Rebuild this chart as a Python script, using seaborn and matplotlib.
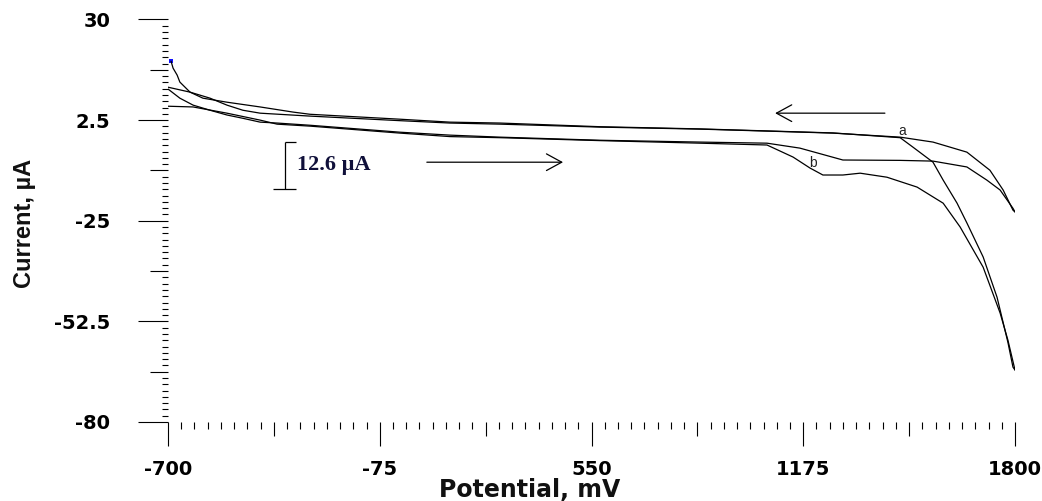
import matplotlib
matplotlib.use("Agg")
import matplotlib.pyplot as plt
import numpy as np
import pandas as pd
import seaborn as sns

# Cyclic voltammograms: potential (mV) vs current (uA), two cycles, forward and reverse sweeps
fwd_a_mv = [-700, -665, -626, -576, -526, -479, -428, -378, -281, -15, 132, 280, 575, 870,
            1068, 1165, 1292, 1461, 1558, 1658, 1717, 1756, 1794, 1800]
fwd_a_ua = [11.0, 8.5, 6.6, 5.2, 3.9, 3.0, 1.95, 1.7, 1.1, -0.8, -1.6, -2.15, -3.0, -3.5,
            -3.8, -5.15, -8.4, -8.5, -8.7, -10.3, -13.9, -16.6, -21.6, -22.6]

rev_a_mv = [1800, 1794, 1765, 1726, 1658, 1558, 1461, 1263, 1068, 870, 575, 280, 132, -15,
            -281, -428, -479, -526, -576, -635, -700]
rev_a_ua = [-22.6, -22.1, -16.6, -11.2, -6.25, -3.5, -2.15, -1.05, -0.5, 0.04, 0.59, 1.4, 1.7, 2.35,
            3.6, 4.4, 5.2, 6.6, 8.5, 10.15, 11.5]

fwd_b_mv = [-700, -626, -526, -428, -378, -281, -15, 132, 280, 575, 870, 1068, 1145, 1195,
            1233, 1292, 1343, 1422, 1511, 1588, 1638, 1706, 1756, 1779, 1800]
fwd_b_ua = [6.3, 6.1, 4.4, 2.5, 1.4, 0.86, -1.05, -2.0, -2.3, -3.1, -3.8, -4.3, -7.6, -10.6,
            -12.5, -12.5, -12.0, -13.1, -15.8, -20.2, -26.7, -37.7, -50.2, -57.6, -65.8]

rev_b_mv = [1800, 1794, 1779, 1747, 1706, 1658, 1629, 1588, 1558, 1499, 1461, 1263, 1068, 870,
            575, 280, 132, -15, -281, -331, -428, -526, -597, -635, -665, -673, -685, -691]
rev_b_ua = [-65.8, -65.0, -58.2, -45.9, -34.9, -25.6, -20.2, -13.9, -9.0, -4.9, -2.3, -1.0, -0.45, 0.1,
            0.7, 1.7, 1.95, 2.75, 4.1, 4.7, 6.1, 7.4, 8.5, 10.15, 12.9, 14.8, 16.7, 18.6]

x_ticks = [-700, -75, 550, 1175, 1800]
x_tick_labels = ["-700", "-75", "550", "1175", "1800"]
y_ticks = [30, 2.5, -25, -52.5, -80]
y_tick_labels = ["30", "2.5", "-25", "-52.5", "-80"]

scale_bar_ua = 12.6
scale_bar_label = "12.6 \u00b5A"

scans = [("a-fwd", fwd_a_mv, fwd_a_ua), ("a-rev", rev_a_mv, rev_a_ua),
         ("b-fwd", fwd_b_mv, fwd_b_ua), ("b-rev", rev_b_mv, rev_b_ua)]
df = pd.concat([pd.DataFrame({"potential": mv, "current": ua, "scan": name})
                for name, mv, ua in scans], ignore_index=True)

sns.set_style("white")
plt.rcParams["font.family"] = ["DejaVu Sans"]

W, H = 1042, 501
fig = plt.figure(figsize=(W / 100, H / 100), dpi=100)
fig.patch.set_facecolor("white")
ax = fig.add_axes([168 / W, 1 - 422 / H, (1015 - 168) / W, (422 - 19.5) / H])

sns.lineplot(data=df, x="potential", y="current", units="scan", estimator=None,
             sort=False, color="black", linewidth=0.9, ax=ax, legend=False)
# end point of the last sweep
sns.scatterplot(x=[rev_b_mv[-1]], y=[rev_b_ua[-1]], color="#1010ff", marker="s",
                s=6, linewidth=0, ax=ax, legend=False)

ax.set_xlim(-700, 1800)
ax.set_ylim(-80, 30)
ax.set_xlabel("")
ax.set_ylabel("")
for s in ax.spines.values():
    s.set_visible(False)

# three tick levels: labelled, mid-way, and fine subdivisions
x_mid = [(a + b) / 2 for a, b in zip(x_ticks[:-1], x_ticks[1:])]
y_mid = [(a + b) / 2 for a, b in zip(y_ticks[:-1], y_ticks[1:])]
x_major_all = x_ticks + x_mid
y_major_all = y_ticks + y_mid
ax.set_xticks(x_major_all)
ax.set_xticklabels(x_tick_labels + [""] * len(x_mid), fontweight="bold", fontsize=14)
ax.set_yticks(y_major_all)
ax.set_yticklabels(y_tick_labels + [""] * len(y_mid), fontweight="bold", fontsize=14)
ax.set_xticks(np.arange(-700, 1800.1, 2500 / 64), minor=True)
ax.set_yticks(np.arange(-80, 30.01, 110 / 64), minor=True)

ax.tick_params(axis="x", which="both", bottom=True, top=False)
ax.tick_params(axis="y", which="both", left=True, right=False)
ax.tick_params(axis="x", which="major", direction="out", length=17.5, width=0.8, pad=10, colors="black")
ax.tick_params(axis="x", which="minor", direction="out", length=5.2, width=0.8, colors="black")
ax.tick_params(axis="y", which="major", direction="out", length=21.6, width=0.8, pad=20, colors="black")
ax.tick_params(axis="y", which="minor", direction="out", length=4.4, width=0.8, colors="black")

for t in ax.xaxis.get_major_ticks():
    if t.get_loc() in x_mid:
        t.tick1line.set_markersize(10.0)
for t in ax.yaxis.get_major_ticks():
    if t.get_loc() in y_mid:
        t.tick1line.set_markersize(13.0)

# sweep direction arrows
arrow_style = dict(arrowstyle="->,head_length=0.55,head_width=0.3", lw=0.9,
                   color="black", mutation_scale=20, shrinkA=0, shrinkB=0)
ax.annotate("", xy=(1092, 4.4), xytext=(1416, 4.4), arrowprops=arrow_style)
ax.annotate("", xy=(466, -9.0), xytext=(64, -9.0), arrowprops=arrow_style)

# curve labels
ax.text(1466, -0.6, "a", fontsize=10, family="Liberation Sans", color="#222222",
        ha="center", va="center")
ax.text(1204, -9.25, "b", fontsize=10, family="Liberation Sans", color="#222222",
        ha="center", va="center")

# current scale bar
bar_x, bar_mid = -355, -9.9
bar_lo, bar_hi = bar_mid - scale_bar_ua / 2, bar_mid + scale_bar_ua / 2
ax.vlines(bar_x, bar_lo, bar_hi, color="black", lw=0.9)
ax.hlines([bar_lo], -390, -322, color="black", lw=0.9)
ax.hlines([bar_hi], -355, -322, color="black", lw=0.9)
ax.text(-318, bar_mid, scale_bar_label, fontsize=16, fontweight="bold",
        family="Liberation Serif", color="#10103a", ha="left", va="center")

fig.text(530 / W, 1 - 490 / H, "Potential, mV", fontsize=17, fontweight="bold",
         color="#111111", ha="center", va="center")
fig.text(25 / W, 1 - 223 / H, "Current, \u00b5A", fontsize=17, fontweight="bold",
         family=["Liberation Sans Narrow", "Liberation Sans"], color="#111111",
         rotation=90, ha="center", va="center")

fig.savefig("out.png", dpi=100, facecolor="white")
